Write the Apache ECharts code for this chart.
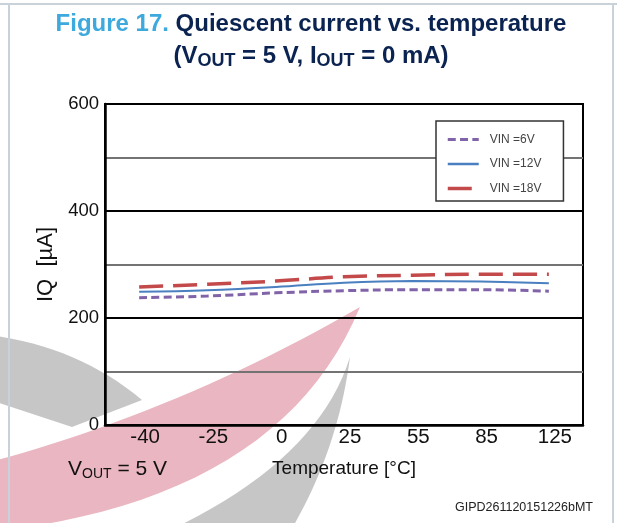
<!DOCTYPE html>
<html>
<head>
<meta charset="utf-8">
<script src="https://cdn.jsdelivr.net/npm/echarts@6/dist/echarts.min.js"></script>
<style>
    html, body {margin: 0; padding: 0; background: #fff;}
    #chart {width: 617px; height: 523px;}
</style>
</head>
<body>
<div id="chart"></div>
<script>
// temperature categories (°C) and quiescent current (µA)
const temps = ['-40', '-25', '0', '25', '55', '85', '125'];
const vin6 = [238, 241, 247, 251, 253, 253, 250];
const vin12 = [249, 252, 258, 266, 269, 268, 265];
const vin18 = [258, 263, 269, 277, 280, 282, 282];
const seriesNames = ['VIN =6V', 'VIN =12V', 'VIN =18V'];

const FONT = "'Liberation Sans', Arial, sans-serif";

// sample a quadratic bezier (decoration only, watermark swooshes)
function quad(p0, c, p2, n) {
    let pts = [];
    for (let i = 0; i <= n; i++) {
        let t = i / n, u = 1 - t;
        pts.push([u * u * p0[0] + 2 * u * t * c[0] + t * t * p2[0],
                  u * u * p0[1] + 2 * u * t * c[1] + t * t * p2[1]]);
    }
    return pts;
}

let redSwoosh = quad([-10, 462], [180, 411], [360, 307], 24)
    .concat(quad([360, 307], [280, 500], [-10, 532], 24));
let greyLeft = quad([-10, 335], [79, 347], [142, 400], 16)
    .concat([[72, 427], [-10, 400]]);
let greyRight = quad([350, 357], [318, 460], [170, 530], 20)
    .concat(quad([291, 530], [338, 450], [350, 357], 20));

let myChart = echarts.init(document.getElementById('chart'));
myChart.setOption({
    animation: false,
    backgroundColor: '#fff',
    textStyle: {fontFamily: FONT},
    graphic: [
        // watermark
        {type: 'polygon', z: -5, shape: {points: redSwoosh}, style: {fill: '#eab6c1'}, silent: true},
        {type: 'polygon', z: -5, shape: {points: greyLeft}, style: {fill: '#c6c6c6'}, silent: true},
        {type: 'polygon', z: -5, shape: {points: greyRight}, style: {fill: '#c6c6c6'}, silent: true},
        // frame
        {type: 'polyline', z: 5, shape: {points: [[9, 523], [9, 4], [613, 4], [613, 523]]},
            style: {stroke: '#c9d1d9', lineWidth: 2, fill: null}},
        {type: 'line', z: 5, shape: {x1: 0, y1: 4, x2: 617, y2: 4}, style: {stroke: '#c9d1d9', lineWidth: 2}},
        // title
        {
            type: 'text', x: 311, y: 24.5,
            style: {
                text: '{a|Figure 17.}{b| Quiescent current vs. temperature}',
                align: 'center', verticalAlign: 'middle',
                rich: {
                    a: {fontSize: 24, fontWeight: 'bold', fontFamily: FONT, fill: '#3ea9dd'},
                    b: {fontSize: 24, fontWeight: 'bold', fontFamily: FONT, fill: '#0a2350'}
                }
            }
        },
        {
            type: 'text', x: 311, y: 56.5,
            style: {
                text: '{b|(V}{s|OUT}{b| = 5 V, I}{s|OUT}{b| = 0 mA)}',
                align: 'center', verticalAlign: 'middle',
                rich: {
                    b: {fontSize: 24, fontWeight: 'bold', fontFamily: FONT, fill: '#0a2350'},
                    s: {fontSize: 18, fontWeight: 'bold', fontFamily: FONT, fill: '#0a2350', padding: [10, 0, 0, 0]}
                }
            }
        },
        // bottom notes
        {
            type: 'text', x: 68, y: 469,
            style: {
                text: '{b|V}{s|OUT}{b| = 5 V}',
                align: 'left', verticalAlign: 'middle',
                rich: {
                    b: {fontSize: 21, fontFamily: FONT, fill: '#111'},
                    s: {fontSize: 14, fontFamily: FONT, fill: '#111', padding: [10, 0, 0, 0]}
                }
            }
        },
        {
            type: 'text', x: 593, y: 507.5,
            style: {
                text: 'GIPD261120151226bMT', align: 'right', verticalAlign: 'middle',
                fontSize: 12.5, fontFamily: FONT, fill: '#222'
            }
        }
    ],
    legend: {
        data: [
            {name: seriesNames[0], lineStyle: {width: 3}},
            {name: seriesNames[1], lineStyle: {width: 2.5}},
            {name: seriesNames[2], lineStyle: {width: 3.5}}
        ],
        orient: 'vertical',
        left: 436,
        top: 121,
        padding: [12.5, 22, 6.5, 10],
        itemWidth: 31,
        itemHeight: 14,
        itemGap: 12.5,
        borderColor: '#333',
        borderWidth: 1.5,
        backgroundColor: '#fff',
        itemStyle: {opacity: 0},
        textStyle: {color: '#444', fontSize: 12, fontFamily: FONT, padding: [0, 0, 0, 6]}
    },
    grid: {
        left: 105, right: 34, top: 104, bottom: 98,
        show: true, borderColor: '#000', borderWidth: 2,
        backgroundColor: 'transparent'
    },
    xAxis: {
        type: 'category',
        data: temps,
        boundaryGap: true,
        name: 'Temperature [°C]',
        nameLocation: 'middle',
        nameGap: 34,
        nameTextStyle: {fontSize: 19, color: '#111', fontFamily: FONT},
        axisLine: {lineStyle: {color: '#000', width: 2.5}},
        axisTick: {show: false},
        axisLabel: {fontSize: 20.5, color: '#111', margin: 2, padding: [0, 0, 0, 12]},
        splitLine: {show: false}
    },
    yAxis: {
        type: 'value',
        min: 0, max: 600, interval: 100,
        name: 'IQ  [µA]',
        nameLocation: 'middle',
        nameGap: 45,
        nameTextStyle: {fontSize: 22, color: '#111', fontFamily: FONT},
        axisLine: {show: true, lineStyle: {color: '#000', width: 2.5}},
        axisTick: {show: false},
        axisLabel: {
            fontSize: 18.5, color: '#111', margin: 6,
            formatter: v => (v % 200 === 0 ? String(v) : '')
        },
        splitLine: {show: true, lineStyle: {color: ['#000', '#737373'], width: 2}}
    },
    series: [
        {
            name: seriesNames[0], type: 'line', data: vin6, smooth: 0.4,
            symbol: 'none', color: '#8063a8',
            lineStyle: {width: 3, type: [8, 4.3], color: '#8063a8'}
        },
        {
            name: seriesNames[1], type: 'line', data: vin12, smooth: 0.4,
            symbol: 'none', color: '#4a7fc0',
            lineStyle: {width: 2, color: '#4a7fc0'}
        },
        {
            name: seriesNames[2], type: 'line', data: vin18, smooth: 0.4,
            symbol: 'none', color: '#c4494a',
            lineStyle: {width: 3.5, type: [24, 10], color: '#c4494a'}
        }
    ]
});
</script>
</body>
</html>
